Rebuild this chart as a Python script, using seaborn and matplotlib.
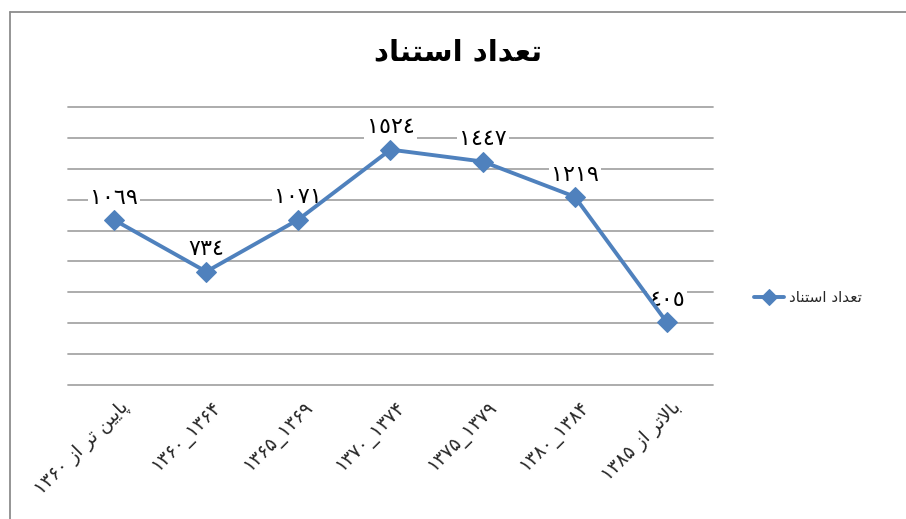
import matplotlib
matplotlib.use("Agg")
import matplotlib.pyplot as plt
import matplotlib.transforms as mtrans
from matplotlib.lines import Line2D
import seaborn as sns
import pandas as pd

# ---------------- data ----------------
title_text = "تعداد استناد"
series_name = "تعداد استناد"
categories = [
    "پایین تر از ۱۳۶۰",
    "۱۳۶۰_۱۳۶۴",
    "۱۳۶۵_۱۳۶۹",
    "۱۳۷۰_۱۳۷۴",
    "۱۳۷۵_۱۳۷۹",
    "۱۳۸۰_۱۳۸۴",
    "بالاتر از ۱۳۸۵",
]
values = [1069, 734, 1071, 1524, 1447, 1219, 405]
y_ticks = [0, 200, 400, 600, 800, 1000, 1200, 1400, 1600, 1800]

# ------------- minimal Arabic/Persian shaping (matplotlib has no shaper) -------------
FORMS = {  # isolated, final, initial, medial
    'ا': ('\uFE8D', '\uFE8E', None, None),
    'د': ('\uFEA9', '\uFEAA', None, None),
    'ر': ('\uFEAD', '\uFEAE', None, None),
    'ز': ('\uFEAF', '\uFEB0', None, None),
    'ب': ('\uFE8F', '\uFE90', '\uFE91', '\uFE92'),
    'پ': ('\uFB56', '\uFB57', '\uFB58', '\uFB59'),
    'ت': ('\uFE95', '\uFE96', '\uFE97', '\uFE98'),
    'س': ('\uFEB1', '\uFEB2', '\uFEB3', '\uFEB4'),
    'ع': ('\uFEC9', '\uFECA', '\uFECB', '\uFECC'),
    'ن': ('\uFEE5', '\uFEE6', '\uFEE7', '\uFEE8'),
    'ی': ('\uFBFC', '\uFBFD', '\uFBFE', '\uFBFF'),
    'ل': ('\uFEDD', '\uFEDE', '\uFEDF', '\uFEE0'),
}


def dual(c):
    return c in FORMS and FORMS[c][2] is not None


def shape_word(w):
    if not any(c in FORMS for c in w):
        return w
    out = []
    i = 0
    while i < len(w):
        c = w[i]
        jp = i > 0 and dual(w[i - 1]) and c in FORMS
        if c == 'ل' and i + 1 < len(w) and w[i + 1] == 'ا':
            out.append('\uFEFC' if jp else '\uFEFB')
            i += 2
            continue
        jn = dual(c) and i + 1 < len(w) and w[i + 1] in FORMS
        if c in FORMS:
            f = FORMS[c]
            if jp and jn:
                out.append(f[3])
            elif jp:
                out.append(f[1])
            elif jn:
                out.append(f[2])
            else:
                out.append(f[0])
        else:
            out.append(c)
        i += 1
    return ''.join(reversed(out))


def visual(s):
    return ' '.join(shape_word(w) for w in reversed(s.split(' ')))


AR_DIGITS = str.maketrans('0123456789', '٠١٢٣٤٥٦٧٨٩')

# ---------------- figure ----------------
sns.set_theme(style="white")
plt.rcParams['font.family'] = ['DejaVu Sans']

W, H = 906, 519
fig = plt.figure(figsize=(W / 100, H / 100), dpi=100)
fig.patch.set_facecolor('white')

# outer chart border (only left and top edges fall inside the image)
bx, by = 9.5 / W, 1 - 11.5 / H
fig.add_artist(Line2D([bx, bx], [0, by], transform=fig.transFigure,
                      color='#8c8c8c', linewidth=1.3))
fig.add_artist(Line2D([bx, 1], [by, by], transform=fig.transFigure,
                      color='#8c8c8c', linewidth=1.3))

ax = fig.add_axes([68 / W, (H - 385) / H, 645 / W, 278 / H])

df = pd.DataFrame({'period': [visual(c) for c in categories], 'count': values})
blue = '#4F81BD'
sns.lineplot(data=df, x='period', y='count', sort=False, ax=ax, color=blue,
             linewidth=2.8, marker='D', markersize=10, markeredgecolor=blue,
             label=visual(series_name), legend=False, zorder=5)

ax.set_xlim(-0.5, len(categories) - 0.5)
ax.set_ylim(y_ticks[0], y_ticks[-1])
ax.set_yticks(y_ticks)
ax.set_yticklabels([])
ax.tick_params(axis='y', length=0)
ax.tick_params(axis='x', length=0, pad=14)
ax.set_xlabel('')
ax.set_ylabel('')
for s in ax.spines.values():
    s.set_visible(False)
ax.grid(axis='y', color='#a6a6a6', linewidth=1.3)
ax.grid(axis='x', visible=False)
for gl in ax.get_ygridlines():
    gl.set_clip_on(False)
ax.set_axisbelow(True)

offset = mtrans.ScaledTranslation(12 / 100, 0, fig.dpi_scale_trans)
for lab in ax.get_xticklabels():
    lab.set_rotation(45)
    lab.set_ha('right')
    lab.set_va('center')
    lab.set_rotation_mode('anchor')
    lab.set_fontsize(13.5)
    lab.set_transform(lab.get_transform() + offset)

for i, v in enumerate(values):
    ax.annotate(str(v).translate(AR_DIGITS), (i, v), xytext=(0, 16),
                textcoords='offset points', ha='center', va='center',
                fontsize=16, color='black', zorder=4,
                bbox=dict(boxstyle='square,pad=0.1', fc='white', ec='none'))

fig.text(458 / W, 1 - 52 / H, visual(title_text), ha='center', va='center',
         fontsize=21, fontweight='bold', color='black')

handles, labels = ax.get_legend_handles_labels()
fig.legend(handles, labels, loc='center left', bbox_to_anchor=(740 / W, 1 - 298 / H),
           frameon=False, fontsize=11, handlelength=2.0, handletextpad=0.3,
           markerscale=0.8)

fig.savefig('out.png', dpi=100, facecolor='white')
